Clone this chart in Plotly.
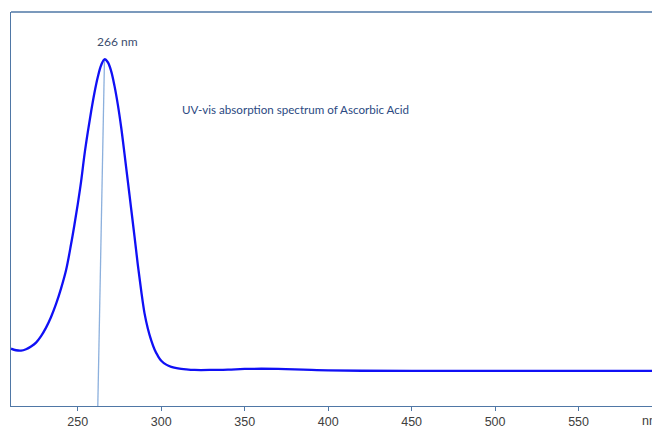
import plotly.graph_objects as go

wavelength = [210, 213, 216, 219, 222, 225, 228, 231, 234, 237, 240, 243, 246, 248, 250,
              252, 254, 256, 258, 260, 262, 264, 266, 268, 270, 272, 274, 276, 278, 280,
              282, 284, 286, 288, 290, 292, 294, 296, 298, 300, 303, 306, 310, 315, 320,
              330, 340, 350, 360, 370, 380, 390, 400, 420, 450, 500, 550, 600]
absorbance = [0.291, 0.283, 0.281, 0.288, 0.302, 0.322, 0.355, 0.398, 0.452, 0.518, 0.597, 0.690,
              0.822, 0.920, 1.025, 1.140, 1.275, 1.390, 1.495, 1.590, 1.670, 1.730, 1.760, 1.745,
              1.700, 1.625, 1.530, 1.415, 1.280, 1.140, 1.000, 0.860, 0.715, 0.585, 0.470, 0.392,
              0.333, 0.287, 0.254, 0.230, 0.210, 0.199, 0.191, 0.186, 0.183, 0.183, 0.185, 0.188,
              0.189, 0.188, 0.186, 0.183, 0.181, 0.179, 0.178, 0.178, 0.178, 0.178]
peak_nm = 266
peak_abs = 1.760
marker_foot_nm = 262
tick_vals = [250, 300, 350, 400, 450, 500, 550]
peak_label = "266 nm"
title_text = "UV-vis absorption spectrum of Ascorbic Acid"

axis_color = "#4f77a6"

fig = go.Figure()
fig.add_trace(go.Scatter(x=[marker_foot_nm, peak_nm], y=[0, peak_abs], mode="lines",
                         line=dict(color="#8cb0dd", width=1.3), hoverinfo="skip"))
fig.add_trace(go.Scatter(x=wavelength, y=absorbance, mode="lines",
                         line=dict(color="#1010f5", width=2.3, shape="spline", smoothing=1.0)))

fig.add_annotation(x=peak_nm, y=peak_abs, xref="x", yref="y", text=peak_label,
                   showarrow=False, xanchor="left", yanchor="bottom", xshift=-9, yshift=8,
                   font=dict(family="Lato", size=12, color="#3d4d6e"))
fig.add_annotation(x=(180 - 11) / (652 - 11), y=(406 - 110) / 394, xref="paper", yref="paper",
                   text=title_text, showarrow=False, xanchor="left", yanchor="middle",
                   font=dict(family="Lato", size=11.6, color="#2c4a82"))
fig.add_annotation(x=1, y=0, xref="paper", yref="paper", text="nm", showarrow=False,
                   xanchor="left", yanchor="top", xshift=-12, yshift=-6,
                   font=dict(family="Liberation Sans", size=12.5, color="#404040"))

fig.update_layout(
    width=652, height=427,
    margin=dict(l=11, r=0, t=12, b=21, autoexpand=False),
    paper_bgcolor="white", plot_bgcolor="white",
    showlegend=False,
    xaxis=dict(range=[210, 594], tickvals=tick_vals, ticks="outside", ticklen=4,
               tickcolor=axis_color, tickwidth=1, showgrid=False, zeroline=False,
               showline=True, linecolor=axis_color, linewidth=1.3, mirror=False,
               tickfont=dict(family="Liberation Sans", size=12.5, color="#404040")),
    yaxis=dict(range=[0, 2.0], showticklabels=False, ticks="", showgrid=False,
               zeroline=False, showline=True, linecolor=axis_color, linewidth=1.3),
)
fig.add_shape(type="line", xref="paper", yref="paper", x0=0, x1=1, y0=1, y1=1,
              line=dict(color=axis_color, width=1.6))
fig.write_html("out.html", config={"displayModeBar": False},
               post_script="document.body.style.margin='0px';")
